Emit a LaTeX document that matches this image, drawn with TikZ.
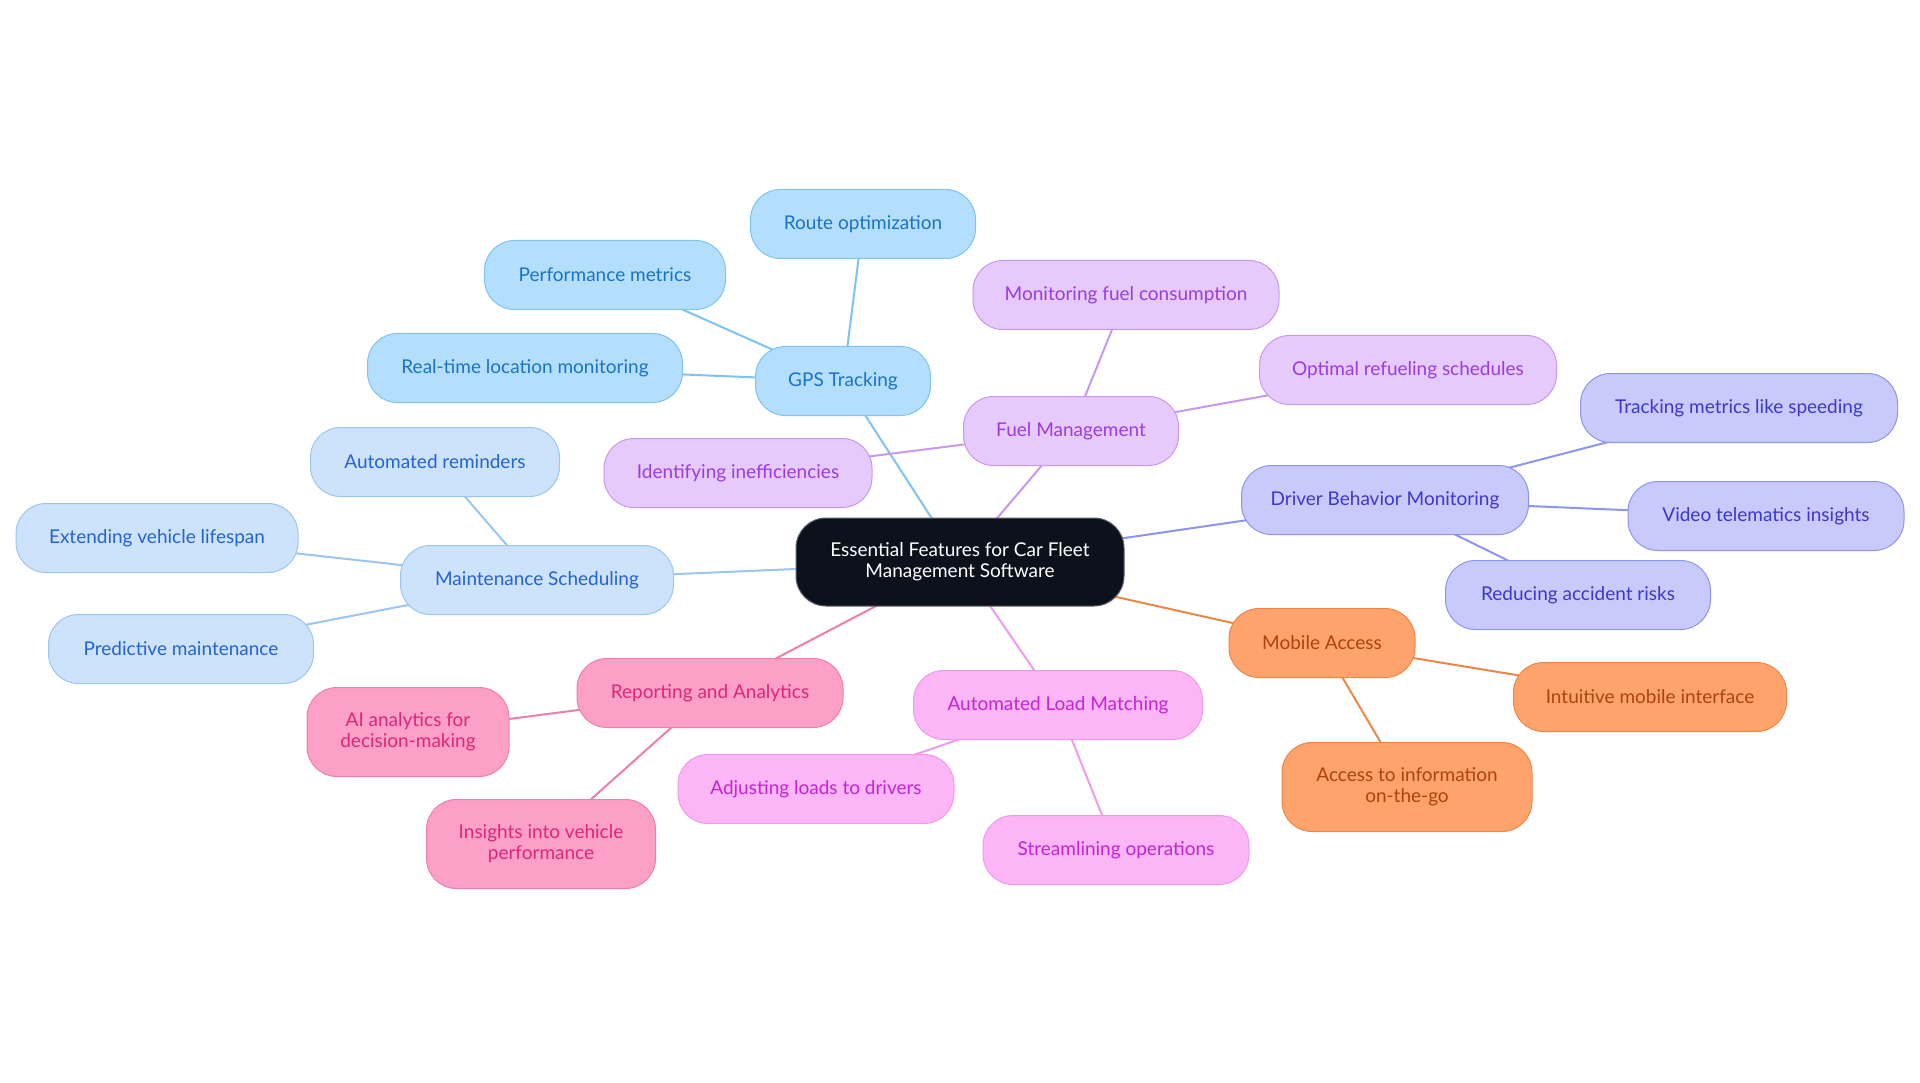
\documentclass[tikz,border=0pt]{standalone}
\usepackage{fontspec}
\setmainfont{Lato}
\pgfdeclarelayer{background}
\pgfsetlayers{background,main}
\definecolor{skyF}{HTML}{B4DFFC}\definecolor{skyD}{HTML}{7EC3F2}\definecolor{skyT}{HTML}{1B73C4}
\definecolor{bluF}{HTML}{CDE3FB}\definecolor{bluD}{HTML}{9CC5F0}\definecolor{bluT}{HTML}{2462D6}
\definecolor{purF}{HTML}{E7CAFC}\definecolor{purD}{HTML}{C898F0}\definecolor{purT}{HTML}{9A3CE0}
\definecolor{indF}{HTML}{C8CAFC}\definecolor{indD}{HTML}{8F94EE}\definecolor{indT}{HTML}{3B38CC}
\definecolor{ornF}{HTML}{FEA36C}\definecolor{ornD}{HTML}{EE8646}\definecolor{ornT}{HTML}{AE440C}
\definecolor{fucF}{HTML}{FCB5F5}\definecolor{fucD}{HTML}{F09AEA}\definecolor{fucT}{HTML}{C026D3}
\definecolor{pnkF}{HTML}{FDA0C8}\definecolor{pnkD}{HTML}{EC7EB0}\definecolor{pnkT}{HTML}{DB2777}
\definecolor{rootF}{HTML}{0C121C}\definecolor{rootD}{HTML}{5C6169}
\tikzset{
  box/.style={rounded corners=30pt, line width=1pt, minimum height=69pt, align=center,
    font=\fontsize{19}{21}\selectfont, inner sep=0pt},
  sky/.style={box, fill=skyF, draw=skyD, text=skyT},
  blu/.style={box, fill=bluF, draw=bluD, text=bluT},
  pur/.style={box, fill=purF, draw=purD, text=purT},
  ind/.style={box, fill=indF, draw=indD, text=indT},
  orn/.style={box, fill=ornF, draw=ornD, text=ornT},
  fuc/.style={box, fill=fucF, draw=fucD, text=fucT},
  pnk/.style={box, fill=pnkF, draw=pnkD, text=pnkT},
  rootbox/.style={box, fill=rootF, draw=rootD, text=white, rounded corners=30pt, minimum height=88pt},
  tall/.style={minimum height=89pt},
  lnk/.style={line width=2pt},
}
\begin{document}
\begin{tikzpicture}[x=1pt,y=-1pt]
\useasboundingbox (0,0) rectangle (1920,1083);
\node[rootbox, minimum width=328pt] (root) at (960,562) {Essential Features for Car Fleet\\Management Software};
% GPS
\node[sky, minimum width=175pt] (gps) at (843,381) {GPS Tracking};
\node[sky, minimum width=225pt] (route) at (863,224) {Route optimization};
\node[sky, minimum width=241pt] (perf) at (605,275) {Performance metrics};
\node[sky, minimum width=315pt] (rtl) at (525,368) {Real-time location monitoring};
% Fuel
\node[pur, minimum width=215pt] (fuel) at (1071,431) {Fuel Management};
\node[pur, minimum width=306pt] (mfc) at (1126,295) {Monitoring fuel consumption};
\node[pur, minimum width=297pt] (ors) at (1408,370) {Optimal refueling schedules};
\node[pur, minimum width=268pt] (idi) at (738,473) {Identifying inefficiencies};
% Driver
\node[ind, minimum width=287pt] (drv) at (1385,500) {Driver Behavior Monitoring};
\node[ind, minimum width=317pt] (tms) at (1739,408) {Tracking metrics like speeding};
\node[ind, minimum width=276pt] (vti) at (1766,516) {Video telematics insights};
\node[ind, minimum width=265pt] (rar) at (1578,595) {Reducing accident risks};
% Mobile
\node[orn, minimum width=186pt] (mob) at (1322,643) {Mobile Access};
\node[orn, minimum width=273pt] (imi) at (1650,697) {Intuitive mobile interface};
\node[orn, tall, minimum width=250pt] (aig) at (1407,787) {Access to information\\on-the-go};
% Load
\node[fuc, minimum width=289pt] (alm) at (1058,705) {Automated Load Matching};
\node[fuc, minimum width=276pt] (ald) at (816,789) {Adjusting loads to drivers};
\node[fuc, minimum width=266pt] (sop) at (1116,850) {Streamlining operations};
% Reporting
\node[pnk, minimum width=266pt] (rep) at (710,693) {Reporting and Analytics};
\node[pnk, tall, minimum width=202pt] (aia) at (408,732) {AI analytics for\\decision-making};
\node[pnk, tall, minimum width=229pt] (ivp) at (541,844) {Insights into vehicle\\performance};
% Maintenance
\node[blu, minimum width=273pt] (mnt) at (537,580) {Maintenance Scheduling};
\node[blu, minimum width=249pt] (amr) at (435,462) {Automated reminders};
\node[blu, minimum width=282pt] (evl) at (157,538) {Extending vehicle lifespan};
\node[blu, minimum width=265pt] (pdm) at (181,649) {Predictive maintenance};
\begin{pgfonlayer}{background}
\draw[lnk, skyD] (root.center) -- (gps.center);
\draw[lnk, skyD] (gps.center) -- (route.center);
\draw[lnk, skyD] (gps.center) -- (perf.center);
\draw[lnk, skyD] (gps.center) -- (rtl.center);
\draw[lnk, purD] (root.center) -- (fuel.center);
\draw[lnk, purD] (fuel.center) -- (mfc.center);
\draw[lnk, purD] (fuel.center) -- (ors.center);
\draw[lnk, purD] (fuel.center) -- (idi.center);
\draw[lnk, indD] (root.center) -- (drv.center);
\draw[lnk, indD] (drv.center) -- (tms.center);
\draw[lnk, indD] (drv.center) -- (vti.center);
\draw[lnk, indD] (drv.center) -- (rar.center);
\draw[lnk, ornD] (root.center) -- (mob.center);
\draw[lnk, ornD] (mob.center) -- (imi.center);
\draw[lnk, ornD] (mob.center) -- (aig.center);
\draw[lnk, fucD] (root.center) -- (alm.center);
\draw[lnk, fucD] (alm.center) -- (ald.center);
\draw[lnk, fucD] (alm.center) -- (sop.center);
\draw[lnk, pnkD] (root.center) -- (rep.center);
\draw[lnk, pnkD] (rep.center) -- (aia.center);
\draw[lnk, pnkD] (rep.center) -- (ivp.center);
\draw[lnk, bluD] (root.center) -- (mnt.center);
\draw[lnk, bluD] (mnt.center) -- (amr.center);
\draw[lnk, bluD] (mnt.center) -- (evl.center);
\draw[lnk, bluD] (mnt.center) -- (pdm.center);
\end{pgfonlayer}
\end{tikzpicture}
\end{document}
